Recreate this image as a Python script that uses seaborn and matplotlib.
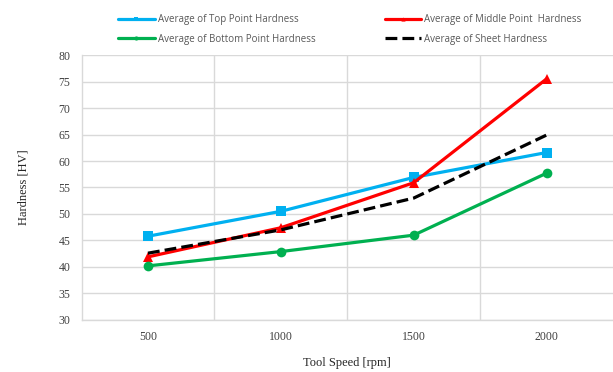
import matplotlib
matplotlib.use("Agg")
import matplotlib.pyplot as plt
import seaborn as sns
import pandas as pd
from matplotlib.lines import Line2D

speeds = ["500", "1000", "1500", "2000"]
top = [45.8, 50.5, 56.9, 61.6]
middle = [41.9, 47.4, 55.9, 75.5]
bottom = [40.2, 42.9, 46.0, 57.7]
sheet = [42.6, 47.0, 53.0, 64.9]
yticks = [30, 35, 40, 45, 50, 55, 60, 65, 70, 75, 80]

names = ["Average of Top Point Hardness", "Average of Middle Point  Hardness",
         "Average of Bottom Point Hardness", "Average of Sheet Hardness"]
series = [top, middle, bottom, sheet]
colors = ["#00B0F0", "#FF0000", "#00B050", "#000000"]
markers = ["s", "^", "o", None]
styles = ["-", "-", "-", "--"]

sns.set_theme(style="white")
plt.rcParams['font.family'] = ['Liberation Serif', 'DejaVu Serif']

fig = plt.figure(figsize=(6.13, 3.72), dpi=100)
ax = fig.add_axes([0.133, 0.140, 0.867, 0.712])

xpos = list(range(len(speeds)))
for name, vals, c, m, ls in zip(names, series, colors, markers, styles):
    df = pd.DataFrame({"x": xpos, "y": vals})
    sns.lineplot(data=df, x="x", y="y", ax=ax, color=c, linewidth=2.3,
                 linestyle=ls, marker=m, markersize=7 if m else 0,
                 markeredgewidth=0, label=None, legend=False)

ax.set_xlim(-0.5, len(speeds) - 0.5)
ax.set_ylim(30, 80)
ax.set_yticks(yticks)
ax.set_yticklabels([str(v) for v in yticks], fontsize=8.5, color="#404040")
ax.set_xticks(xpos)
ax.set_xticklabels(speeds, fontsize=8.5, color="#404040")
ax.set_xticks([0.5, 1.5, 2.5], minor=True)
ax.grid(True, axis="y", which="major", color="#D9D9D9", linewidth=1)
ax.grid(True, axis="x", which="minor", color="#D9D9D9", linewidth=1)
ax.grid(False, axis="x", which="major")
ax.tick_params(axis="both", which="both", length=0, pad=8)
for s in ["top", "right"]:
    ax.spines[s].set_visible(False)
for s in ["left", "bottom"]:
    ax.spines[s].set_color("#D9D9D9")
    ax.spines[s].set_linewidth(1)

ax.set_xlabel("Tool Speed [rpm]", fontsize=9, color="#262626", labelpad=10)
ax.set_ylabel("Hardness [HV]", fontsize=9, color="#262626", labelpad=21)

handles = {}
for name, c, m, ls in zip(names, colors, markers, styles):
    handles[name] = Line2D([], [], color=c, linestyle=ls, linewidth=2.3,
                           marker=m, markersize=3 if m else 0, markeredgewidth=0)
order = [names[0], names[2], names[1], names[3]]
leg = fig.legend([handles[n] for n in order], order, loc="upper left",
                 bbox_to_anchor=(0.178, 0.985),
                 ncol=2, frameon=False, handlelength=3.8,
                 handletextpad=0.3, columnspacing=7.1, labelspacing=0.85,
                 prop={"family": ["Open Sans", "DejaVu Sans"], "size": 7})
for t in leg.get_texts():
    t.set_color("#595959")

fig.savefig("out.png", dpi=100)
